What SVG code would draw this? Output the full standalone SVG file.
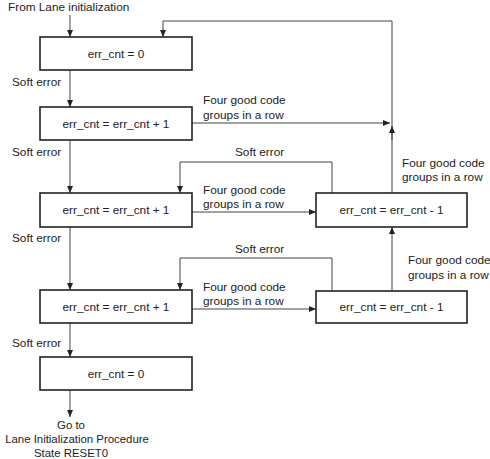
<svg xmlns="http://www.w3.org/2000/svg" width="490" height="459" viewBox="0 0 490 459">
<defs>
<marker id="ah" markerWidth="7" markerHeight="6" refX="7" refY="3" orient="auto" markerUnits="userSpaceOnUse">
<path d="M0,0 L7,3 L0,6 Z" fill="#222"/>
</marker>
<style>
.box{fill:#fff;stroke:#222;stroke-width:1.6}
.c{fill:none;stroke:#444;stroke-width:1;marker-end:url(#ah)}
text{font-family:"Liberation Sans",Arial,sans-serif;font-size:11.8px;fill:#222}
.m{text-anchor:middle}
.s{font-size:11.4px}
</style>
</defs>
<rect width="490" height="459" fill="#fff"/>
<g id="connectors">
<path class="c" d="M70,15 V37"/>
<path class="c" d="M70,70 V107"/>
<path class="c" d="M70,140 V193"/>
<path class="c" d="M70,227 V290"/>
<path class="c" d="M70,323 V357"/>
<path class="c" d="M70,390 V417"/>
<path class="c" d="M392,193 V21 H163 V37"/>
<path class="c" d="M392,140 V126"/>
<path class="c" d="M192,123 H390"/>
<path class="c" d="M332,193 V162 H180 V193"/>
<path class="c" d="M192,212 H316"/>
<path class="c" d="M332,291 V258 H180 V290"/>
<path class="c" d="M192,309 H316"/>
<path class="c" d="M392,291 V227"/>
</g>
<g id="n1"><rect class="box" x="40" y="37" width="152" height="33"/><text class="m" x="116" y="58">err_cnt = 0</text></g>
<g id="n2"><rect class="box" x="40" y="107" width="152" height="33"/><text class="m" x="116" y="128">err_cnt = err_cnt + 1</text></g>
<g id="n3"><rect class="box" x="40" y="193" width="152" height="34"/><text class="m" x="116" y="214">err_cnt = err_cnt + 1</text></g>
<g id="n4"><rect class="box" x="40" y="290" width="152" height="33"/><text class="m" x="116" y="311">err_cnt = err_cnt + 1</text></g>
<g id="n5"><rect class="box" x="40" y="357" width="152" height="33"/><text class="m" x="116" y="378">err_cnt = 0</text></g>
<g id="n6"><rect class="box" x="316" y="193" width="151" height="34"/><text class="m" x="391.5" y="214">err_cnt = err_cnt - 1</text></g>
<g id="n7"><rect class="box" x="316" y="291" width="151" height="32"/><text class="m" x="391.5" y="311">err_cnt = err_cnt - 1</text></g>
<g id="labels">
<text x="8" y="11">From Lane initialization</text>
<text x="12" y="86">Soft error</text>
<text x="12" y="156">Soft error</text>
<text x="12" y="242">Soft error</text>
<text x="12" y="347">Soft error</text>
<text x="203" y="104">Four good code</text>
<text x="203" y="119">groups in a row</text>
<text x="235" y="156">Soft error</text>
<text x="203" y="194">Four good code</text>
<text x="203" y="208">groups in a row</text>
<text x="402" y="167">Four good code</text>
<text x="402" y="181">groups in a row</text>
<text x="235" y="253">Soft error</text>
<text x="203" y="291">Four good code</text>
<text x="203" y="305">groups in a row</text>
<text x="408" y="264">Four good code</text>
<text x="408" y="279">groups in a row</text>
<text class="m s" x="71" y="429">Go to</text>
<text class="m s" x="77" y="443">Lane Initialization Procedure</text>
<text class="m s" x="71" y="457">State RESET0</text>
</g>
</svg>
